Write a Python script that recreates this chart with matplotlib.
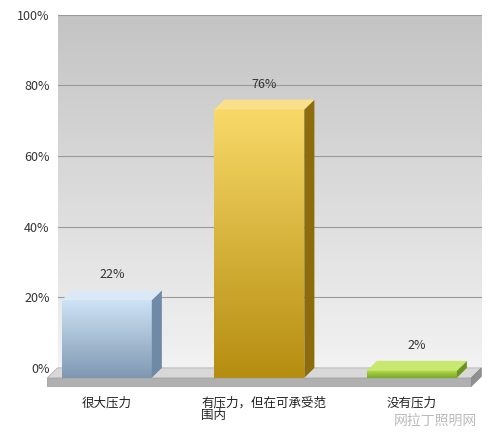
import matplotlib
matplotlib.use("Agg")
import matplotlib.pyplot as plt
import numpy as np
from matplotlib.patches import Polygon
from matplotlib.colors import LinearSegmentedColormap

plt.rcParams['font.family'] = ['Noto Sans CJK SC', 'DejaVu Sans']

categories = ["很大压力", "有压力，但在可承受范\n围内", "没有压力"]
values = [22, 76, 2]
labels = ["22%", "76%", "2%"]
yticks = [0, 20, 40, 60, 80, 100]
front_cols = [("#cfe2f5", "#7f98b2"), ("#f8d968", "#b58d10"), ("#b6dc50", "#7aa828")]
side_cols = ["#6f8aa6", "#8c6c0c", "#6a9422"]
top_cols = ["#dbe9f7", "#fbe08a", "#c8e870"]

fig = plt.figure(figsize=(5, 4.38), dpi=100)
fig.patch.set_facecolor("white")
ax = fig.add_axes([0.116, 0.16, 0.848, 0.806])
ax.set_xlim(-0.32, 2.46)
ax.set_ylim(0, 100)
for s in ax.spines.values():
    s.set_visible(False)

# background gradient
bg = LinearSegmentedColormap.from_list("bg", ["#f2f2f2", "#c4c4c4"])
ax.imshow(np.linspace(0, 1, 100).reshape(-1, 1), extent=(-0.32, 2.46, 0, 100),
          aspect="auto", cmap=bg, origin="lower", zorder=0)
for t in yticks:
    ax.axhline(t, color="#9a9a9a", lw=0.8, zorder=1)
ax.set_yticks(yticks)
ax.set_yticklabels([f"{t}%" for t in yticks], fontsize=9, color="#333333")
ax.tick_params(axis="y", length=0, pad=6)
ax.set_xticks([])

dx, dy = 0.066, 2.8
w = 0.59
b = -dy

# floor
fx0, fx1 = -0.39, 2.39
ax.add_patch(Polygon([(fx0, b), (fx1, b), (fx1 + dx, 0), (fx0 + dx, 0)],
                     closed=True, fc="#d8d8d8", ec="#aaaaaa", lw=0.5, clip_on=False, zorder=2))
ax.add_patch(Polygon([(fx0, b), (fx1, b), (fx1, b - 2.4), (fx0, b - 2.4)],
                     closed=True, fc="#b0b0b0", ec="#999999", lw=0.5, clip_on=False, zorder=2))
ax.add_patch(Polygon([(fx1, b), (fx1 + dx, 0), (fx1 + dx, -2.4), (fx1, b - 2.4)],
                     closed=True, fc="#909090", ec="#888888", lw=0.5, clip_on=False, zorder=2))

for i, v in enumerate(values):
    x0, x1 = i - w / 2, i + w / 2
    top = v - dy
    cm = LinearSegmentedColormap.from_list(f"c{i}", [front_cols[i][1], front_cols[i][0]])
    ax.imshow(np.linspace(0, 1, 100).reshape(-1, 1), extent=(x0, x1, b, top),
              aspect="auto", cmap=cm, origin="lower", zorder=3, clip_on=False)
    ax.add_patch(Polygon([(x1, b), (x1 + dx, 0), (x1 + dx, v), (x1, top)],
                         closed=True, fc=side_cols[i], ec="none", clip_on=False, zorder=3))
    ax.add_patch(Polygon([(x0, top), (x1, top), (x1 + dx, v), (x0 + dx, v)],
                         closed=True, fc=top_cols[i], ec="none", clip_on=False, zorder=3))
    ax.text(i + dx / 2, v + 2.5, labels[i], ha="center", va="bottom",
            fontsize=9, color="#333333", zorder=4)

ax.set_xlim(-0.32, 2.46)
ax.set_ylim(0, 100)

xs = [0, 1, 2]
for i, c in enumerate(categories):
    if i == 1:
        ax.text(i - 0.38, -8, c, ha="left", va="top", fontsize=9, color="#222222",
                clip_on=False, linespacing=1.0)
    else:
        ax.text(i, -8, c, ha="center", va="top", fontsize=9, color="#222222", clip_on=False)

fig.text(0.955, 0.04, "网拉丁照明网", ha="right", va="center", fontsize=10, color="#bbbbbb")

fig.savefig("out.png", dpi=100)
